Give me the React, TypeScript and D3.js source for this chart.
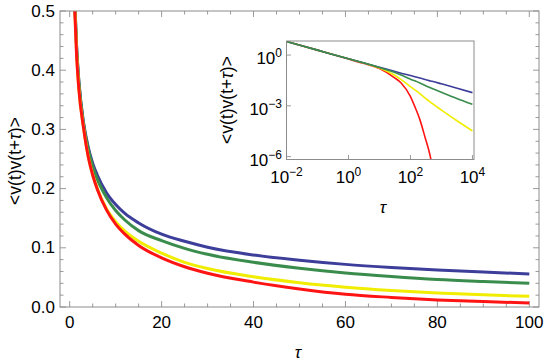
import * as d3 from 'd3'
import React, { useRef, useEffect } from 'react'

// main panel: tau on a linear axis
const tauMain = [1, 1.5, 2, 3, 4, 5, 6, 8, 10, 12, 15, 20, 25, 30, 40, 50, 60, 70, 80, 90, 100]
const blueMain = [0.535, 0.44, 0.381, 0.312, 0.271, 0.243, 0.223, 0.193, 0.173, 0.158, 0.142, 0.123, 0.111, 0.101, 0.0878, 0.079, 0.072, 0.0668, 0.0626, 0.059, 0.0558]
const greenMain = [0.535, 0.44, 0.38, 0.31, 0.268, 0.238, 0.216, 0.185, 0.163, 0.147, 0.129, 0.112, 0.099, 0.089, 0.0755, 0.0655, 0.0575, 0.0515, 0.0465, 0.043, 0.04]
const yellowMain = [0.525, 0.43, 0.369, 0.304, 0.256, 0.224, 0.2, 0.166, 0.144, 0.128, 0.111, 0.091, 0.0755, 0.065, 0.051, 0.041, 0.0335, 0.028, 0.0238, 0.0205, 0.018]
const redMain = [0.52, 0.425, 0.367, 0.303, 0.255, 0.223, 0.199, 0.164, 0.14, 0.123, 0.104, 0.083, 0.068, 0.057, 0.042, 0.0305, 0.0215, 0.0162, 0.012, 0.0092, 0.0068]

// inset: log-log, values are log10 of the correlation
const tauInset = [0.01, 0.1, 1, 3, 10, 30, 50, 100, 150, 200, 300, 400, 500, 1000, 3000, 10000]
const blueInset = [0.8, 0.29, -0.22, -0.46, -0.72, -0.96, -1.07, -1.21, -1.3, -1.36, -1.45, -1.51, -1.55, -1.7, -1.95, -2.22]
const greenInset = [0.8, 0.29, -0.22, -0.46, -0.73, -1.02, -1.18, -1.43, -1.55, -1.65, -1.8, -1.9, -1.98, -2.2, -2.55, -2.91]
const yellowInset = [0.8, 0.29, -0.22, -0.47, -0.76, -1.18, -1.45, -1.87, -2.1, -2.28, -2.55, -2.72, -2.86, -3.25, -3.85, -4.48]
const redInset = [0.8, 0.29, -0.23, -0.49, -0.8, -1.33, -1.65, -2.45, -3.2, -3.8, -4.9, -5.7, -6.5, NaN, NaN, NaN]

const colors = ['#3d3d9a', '#3a8c4c', '#f0ed00', '#ff1414']
const xTicksMain = [0, 20, 40, 60, 80, 100]
const yTicksMain = [0, 0.1, 0.2, 0.3, 0.4, 0.5]
const xTicksInset = [-2, 0, 2, 4]
const yTicksInset = [0, -3, -6]

const FONT = '"Liberation Sans", Arial, sans-serif'
const FRAME = '#8c8c8c'
const TICK = '#9a9a9a'

export default function App() {
    const svgRef = useRef<SVGSVGElement>(null)

    useEffect(() => {
        const svg = d3.select(svgRef.current)
        svg.selectAll('*').remove()

        // ---- main plot
        const x = d3.scaleLinear().domain([-2.11, 102.11]).range([60, 539])
        const y = d3.scaleLinear().domain([0, 0.5]).range([307, 11])

        svg.append('clipPath').attr('id', 'clipMain')
            .append('rect').attr('x', 60).attr('y', 11).attr('width', 479).attr('height', 296)

        const g = svg.append('g')

        // minor + major ticks on all four sides
        const tk = g.append('g').attr('stroke', TICK).attr('stroke-width', 1)
        d3.range(0, 101, 5).forEach(v => {
            const len = v % 20 === 0 ? 6 : 3.5
            tk.append('line').attr('x1', x(v)).attr('x2', x(v)).attr('y1', 307).attr('y2', 307 - len)
            tk.append('line').attr('x1', x(v)).attr('x2', x(v)).attr('y1', 11).attr('y2', 11 + len)
        })
        d3.range(0, 51, 2).forEach(i => {
            const v = i / 100
            const len = i % 10 === 0 ? 6 : 3.5
            tk.append('line').attr('y1', y(v)).attr('y2', y(v)).attr('x1', 60).attr('x2', 60 + len)
            tk.append('line').attr('y1', y(v)).attr('y2', y(v)).attr('x1', 539).attr('x2', 539 - len)
        })

        const series = [blueMain, greenMain, yellowMain, redMain]
        const line = d3.line<[number, number]>()
            .x(d => x(d[0]))
            .y(d => y(d[1]))
            .curve(d3.curveMonotoneX)
        series.forEach((s, i) => {
            g.append('path')
                .attr('d', line(tauMain.map((t, j) => [t, s[j]] as [number, number])))
                .attr('fill', 'none')
                .attr('stroke', colors[i])
                .attr('stroke-width', 3)
                .attr('clip-path', 'url(#clipMain)')
        })

        g.append('rect').attr('x', 60).attr('y', 11).attr('width', 479).attr('height', 296)
            .attr('fill', 'none').attr('stroke', FRAME).attr('stroke-width', 1)

        g.selectAll('.xl').data(xTicksMain).join('text')
            .attr('x', d => x(d)).attr('y', 322)
            .attr('text-anchor', 'middle').attr('dominant-baseline', 'central')
            .style('font-family', FONT).style('font-size', '17px')
            .text(d => d)
        g.selectAll('.yl').data(yTicksMain).join('text')
            .attr('x', 55).attr('y', d => y(d))
            .attr('text-anchor', 'end').attr('dominant-baseline', 'central')
            .style('font-family', FONT).style('font-size', '17px')
            .text(d => d3.format('.1f')(d))

        g.append('text').attr('x', 298).attr('y', 358)
            .attr('text-anchor', 'middle')
            .style('font-family', FONT).style('font-size', '17px').style('font-style', 'italic')
            .text('τ')
        const yLab = g.append('text')
            .attr('transform', 'translate(15,161) rotate(-90)')
            .attr('text-anchor', 'middle').attr('dominant-baseline', 'central')
            .style('font-family', FONT).style('font-size', '17.5px')
        yLab.append('tspan').text('<v(t)v(t+')
        yLab.append('tspan').style('font-style', 'italic').text('τ')
        yLab.append('tspan').text(')>')

        // ---- inset
        const xi = d3.scaleLinear().domain([-2, 4.05]).range([286.5, 474])
        const yi = d3.scaleLinear().domain([-6.17, 0.83]).range([159.5, 41])
        const gi = svg.append('g')
        gi.append('rect').attr('x', 286.5).attr('y', 41).attr('width', 187.5).attr('height', 118.5).attr('fill', '#fff')
        svg.append('clipPath').attr('id', 'clipInset')
            .append('rect').attr('x', 286.5).attr('y', 41).attr('width', 187.5).attr('height', 118.5)

        const iline = d3.line<[number, number]>()
            .defined(d => !isNaN(d[1]))
            .x(d => xi(Math.log10(d[0])))
            .y(d => yi(d[1]))
            .curve(d3.curveMonotoneX)
        // green ends up on top where the curves overlap, as in the picture
        const insetOrder = [3, 2, 0, 1]
        const insetSeries = [blueInset, greenInset, yellowInset, redInset]
        insetOrder.forEach(i => {
            gi.append('path')
                .attr('d', iline(tauInset.map((t, j) => [t, insetSeries[i][j]] as [number, number])))
                .attr('fill', 'none')
                .attr('stroke', colors[i])
                .attr('stroke-width', 1.6)
                .attr('clip-path', 'url(#clipInset)')
        })

        const itk = gi.append('g').attr('stroke', TICK)
        xTicksInset.forEach(v => {
            itk.append('line').attr('x1', xi(v)).attr('x2', xi(v)).attr('y1', 159.5).attr('y2', 155)
        })
        yTicksInset.forEach(v => {
            itk.append('line').attr('y1', yi(v)).attr('y2', yi(v)).attr('x1', 286.5).attr('x2', 291)
        })
        gi.append('rect').attr('x', 286.5).attr('y', 41).attr('width', 187.5).attr('height', 118.5)
            .attr('fill', 'none').attr('stroke', FRAME)

        const pow = (sel: any, v: number) => {
            sel.append('tspan').text('10')
            sel.append('tspan').attr('dy', -7).style('font-size', '12px').text(v < 0 ? '−' + (-v) : String(v))
        }
        xTicksInset.forEach(v => {
            const t = gi.append('text').attr('x', xi(v)).attr('y', 183)
                .attr('text-anchor', 'middle')
                .style('font-family', FONT).style('font-size', '17px')
            pow(t, v)
        })
        yTicksInset.forEach(v => {
            const t = gi.append('text').attr('x', 282).attr('y', yi(v) + 9)
                .attr('text-anchor', 'end')
                .style('font-family', FONT).style('font-size', '17px')
            pow(t, v)
        })
        gi.append('text').attr('x', 383).attr('y', 213)
            .attr('text-anchor', 'middle')
            .style('font-family', FONT).style('font-size', '17px').style('font-style', 'italic')
            .text('τ')
        const yLabI = gi.append('text')
            .attr('transform', 'translate(227,100) rotate(-90)')
            .attr('text-anchor', 'middle').attr('dominant-baseline', 'central')
            .style('font-family', FONT).style('font-size', '17.5px')
        yLabI.append('tspan').text('<v(t)v(t+')
        yLabI.append('tspan').style('font-style', 'italic').text('τ')
        yLabI.append('tspan').text(')>')
    }, [])

    return (
        <svg ref={svgRef} width={545} height={363}
            style={{ position: 'absolute', left: 0, top: 0, background: '#fff' }} />
    )
}
